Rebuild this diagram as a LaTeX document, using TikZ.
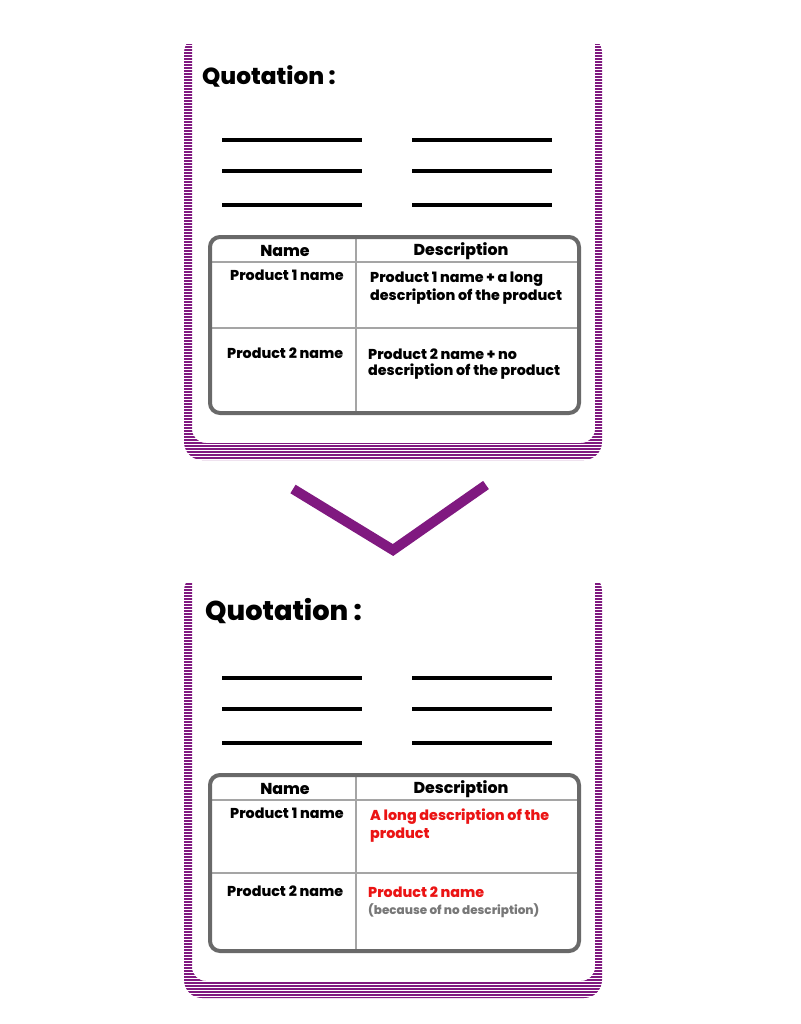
\documentclass[tikz,border=0pt]{standalone}
\usepackage{fontspec}
\setmainfont{Poppins}[BoldFont={Poppins ExtraBold}]
\usetikzlibrary{patterns}
\definecolor{cardpurple}{RGB}{128,25,128}
\definecolor{framegray}{RGB}{105,105,105}
\definecolor{gridgray}{RGB}{165,165,165}
\definecolor{notered}{RGB}{235,20,20}
\definecolor{notegray}{RGB}{120,120,120}

\begin{document}
\begin{tikzpicture}[x=1pt, y=-1pt,
    heading/.style={font=\bfseries\fontsize{23.2}{28}\selectfont, anchor=base west, inner sep=0pt},
    bigheading/.style={heading, font=\bfseries\fontsize{27.2}{32}\selectfont},
    rule/.style={line width=4.5pt},
    colhead/.style={font=\bfseries\fontsize{15.8}{18}\selectfont, anchor=base, inner sep=0pt},
    cell/.style={font=\bfseries\fontsize{14.3}{18}\selectfont, anchor=base west, align=left, inner sep=0pt}
]
    \useasboundingbox[fill=white] (0,0) rectangle (800,1024);

    % the two cards: frame, rules and table
    \foreach \oy/\ry in {0/328, 538/873} {
        \begin{scope}
            \clip (150,45+\oy) rectangle (650,470+\oy);
            \fill[cardpurple, even odd rule, rounded corners=18] (184,35+\oy) rectangle (602,460+\oy)
                (192,20+\oy) [rounded corners=14] rectangle (595,443+\oy);
            \fill[pattern=horizontal lines, pattern color=white] (180,45+\oy) rectangle (606,465+\oy);
        \end{scope}
        \foreach \ly in {140,171,205} {
            \draw[rule] (222,\ly+\oy) -- (362,\ly+\oy);
            \draw[rule] (412,\ly+\oy) -- (552,\ly+\oy);
        }
        \draw[gridgray, line width=1.5pt] (212,262+\oy) -- (577,262+\oy)
            (212,\ry) -- (577,\ry) (356,239+\oy) -- (356,411+\oy);
        \draw[framegray, line width=4pt, rounded corners=10] (210,237+\oy) rectangle (579,413+\oy);
    }

    % card 1
    \node[heading] (title1) at (202,85) {Quotation :};
    \node[colhead] (name1) at (285,256) {Name};
    \node[colhead] (desc1) at (461,255) {Description};
    \node[cell] (prodA1) at (230,280) {Product 1 name};
    \node[cell] (textA1) at (370,300) {Product 1 name + a long\\description of the product};
    \node[cell, font=\bfseries\fontsize{14.3}{16}\selectfont] (prodB1) at (227,358) {Product 2 name};
    \node[cell, font=\bfseries\fontsize{14.3}{16}\selectfont] (textB1) at (368,375) {Product 2 name + no\\description of the product};

    % arrow between the cards
    \draw[cardpurple, line width=10pt] (293,489) -- (393,550) -- (486,485);

    % card 2
    \node[bigheading] (title2) at (205,620) {Quotation :};
    \node[colhead] (name2) at (285,794) {Name};
    \node[colhead] (desc2) at (461,793) {Description};
    \node[cell] (prodA2) at (230,818) {Product 1 name};
    \node[cell, text=notered] (textA2) at (370,838) {A long description of the\\product};
    \node[cell] (prodB2) at (227,896) {Product 2 name};
    \node[cell, text=notered] (textB2) at (368,897) {Product 2 name};
    \node[cell, text=notegray, font=\bfseries\fontsize{12}{14}\selectfont] (noteB2) at (368,914) {(because of no description)};
\end{tikzpicture}
\end{document}
